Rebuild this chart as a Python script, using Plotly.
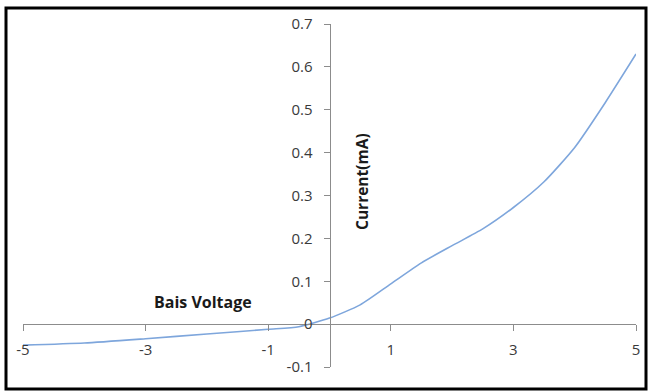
import plotly.graph_objects as go

# Data
bias_voltage = [-5, -4, -3, -2, -1, -0.5, 0, 0.5, 1, 1.5, 2, 2.5, 3, 3.5, 4, 4.5, 5]
current_ma = [-0.049, -0.044, -0.034, -0.023, -0.012, -0.006, 0.014, 0.045, 0.094,
              0.143, 0.183, 0.222, 0.272, 0.332, 0.412, 0.517, 0.630]

x_ticks = [-5, -3, -1, 1, 3, 5]
y_ticks = [-0.1, 0, 0.1, 0.2, 0.3, 0.4, 0.5, 0.6, 0.7]
y_tick_text = ["-0.1", "0", "0.1", "0.2", "0.3", "0.4", "0.5", "0.6", "0.7"]

W, H = 649, 392
ML, MR, MT, MB = 23, 13, 24, 25
pw, ph = W - ML - MR, H - MT - MB

def px_x(p):
    return (p - ML) / pw

def px_y(p):
    return (H - MB - p) / ph

fig = go.Figure()
fig.add_trace(go.Scatter(
    x=bias_voltage, y=current_ma, mode="lines",
    line=dict(color="#7ea6dc", width=1.6, shape="spline", smoothing=0.6),
    showlegend=False, hoverinfo="skip", cliponaxis=False,
))

FAM = "Open Sans, Liberation Sans, sans-serif"
font = dict(family=FAM, size=15, color="#3a3a3a")

fig.update_layout(
    width=W, height=H,
    margin=dict(l=ML, r=MR, t=MT, b=MB, autoexpand=False),
    paper_bgcolor="white", plot_bgcolor="white",
    font=font,
    xaxis=dict(
        range=[-5, 5], tickvals=x_ticks, ticktext=[str(v) for v in x_ticks],
        showgrid=False, zeroline=False, showline=True, linecolor="#8c8c8c", linewidth=1,
        ticks="outside", ticklen=6, tickcolor="#8c8c8c", ticklabelstandoff=6,
        anchor="free", position=0.125, tickfont=font, automargin=False,
    ),
    yaxis=dict(
        range=[-0.1, 0.7], tickvals=y_ticks, ticktext=y_tick_text,
        showgrid=False, zeroline=False, showline=True, linecolor="#8c8c8c", linewidth=1,
        ticks="outside", ticklen=6, tickcolor="#8c8c8c", ticklabelstandoff=8,
        anchor="free", position=0.5, tickfont=font, automargin=False,
    ),
    shapes=[dict(
        type="rect", xref="paper", yref="paper",
        x0=px_x(6), x1=px_x(646), y0=px_y(389), y1=px_y(8),
        line=dict(color="black", width=3), fillcolor="rgba(0,0,0,0)", layer="above",
    )],
    annotations=[
        dict(x=-2.07, y=0.051, xref="x", yref="y", text="<b>Bais Voltage</b>",
             showarrow=False, font=dict(family=FAM, size=16, color="#1a1a1a")),
        dict(x=0.54, y=0.333, xref="x", yref="y", text="<b>Current(mA)</b>", textangle=-90,
             showarrow=False, font=dict(family=FAM, size=15.5, color="#1a1a1a")),
    ],
)

fig.write_html("out.html", config={"displayModeBar": False},
               post_script="document.body.style.margin='0';document.body.style.padding='0';")
